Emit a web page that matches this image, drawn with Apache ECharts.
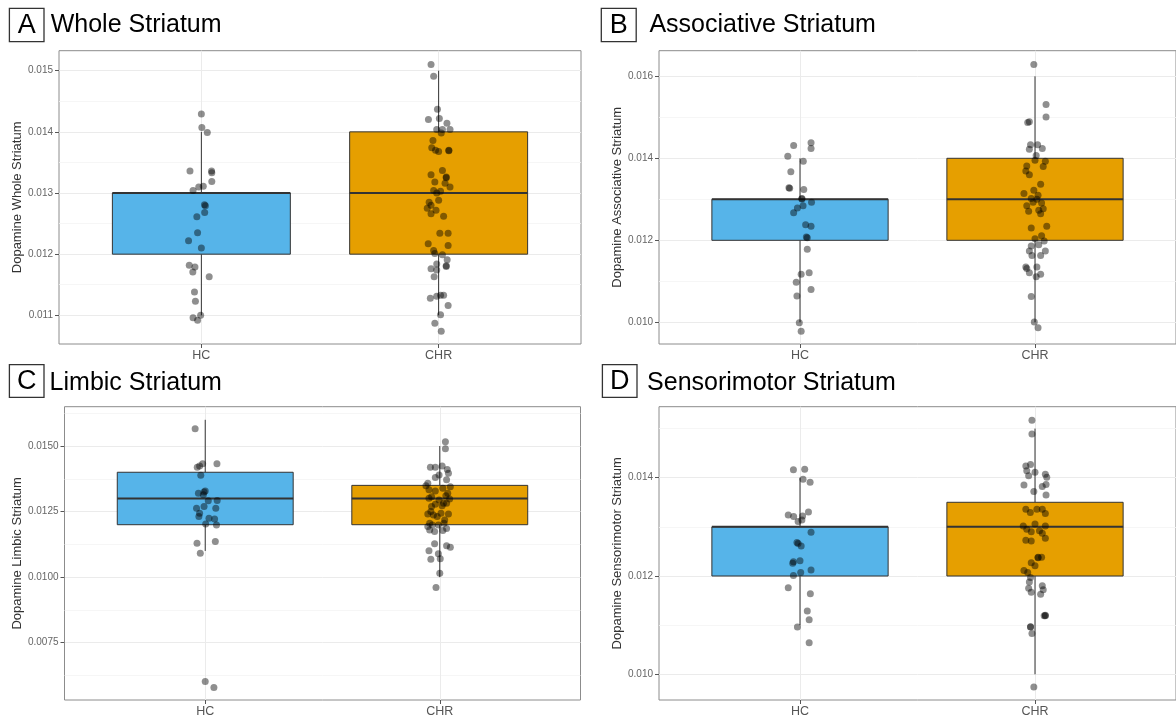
<!DOCTYPE html>
<html><head><meta charset="utf-8">
<script src="https://cdn.jsdelivr.net/npm/echarts@6/dist/echarts.min.js"></script>
<style>html,body{margin:0;padding:0;background:#fff}#c{width:1176px;height:722px}</style>
</head><body><div id="c"></div><script>
const groups = ['HC', 'CHR'];
const panelLetters = ['A', 'B', 'C', 'D'];
const panelTitles = ['Whole Striatum', 'Associative Striatum', 'Limbic Striatum', 'Sensorimotor Striatum'];
const yNames = ['Dopamine Whole Striatum', 'Dopamine Associative Striatum', 'Dopamine Limbic Striatum', 'Dopamine Sensorimotor Striatum'];

// box stats: [lower whisker, q1, median, q3, upper whisker]
const wholeBoxHC = [0.011, 0.012, 0.013, 0.013, 0.014];
const wholeBoxCHR = [0.011, 0.012, 0.013, 0.014, 0.015];
const assocBoxHC = [0.010, 0.012, 0.013, 0.013, 0.014];
const assocBoxCHR = [0.010, 0.012, 0.013, 0.014, 0.016];
const limbicBoxHC = [0.011, 0.012, 0.013, 0.014, 0.016];
const limbicBoxCHR = [0.010, 0.012, 0.013, 0.0135, 0.015];
const sensoBoxHC = [0.011, 0.012, 0.013, 0.013, 0.014];
const sensoBoxCHR = [0.010, 0.012, 0.013, 0.0135, 0.015];

// jittered points: [horizontal jitter, value]
const wholeHC = [[0,0.01429],[0.002,0.01407],[0.025,0.01399],[-0.048,0.01336],[0.043,0.01336],[0.044,0.01333],[0.044,0.01319],[0.008,0.01311],[-0.011,0.01310],[-0.035,0.01304],[0.013,0.01281],[0.017,0.01279],[0.014,0.01268],[-0.019,0.01261],[-0.016,0.01235],[-0.054,0.01222],[0,0.01210],[-0.051,0.01182],[-0.027,0.01179],[-0.036,0.01171],[0.033,0.01163],[-0.029,0.01138],[-0.025,0.01123],[-0.035,0.01096],[-0.003,0.01100],[-0.016,0.01092]];
const wholeCHR = [[-0.032,0.01510],[-0.021,0.01491],[-0.005,0.01437],[-0.043,0.01420],[0.003,0.01422],[0.035,0.01414],[-0.008,0.01404],[0.016,0.01404],[0.048,0.01404],[0.011,0.01398],[-0.024,0.01386],[-0.029,0.01374],[-0.013,0.01370],[0,0.01368],[0.043,0.01370],[0.043,0.01369],[0.016,0.01337],[-0.032,0.01330],[0.032,0.01326],[0.032,0.01325],[-0.016,0.01318],[0.027,0.01316],[0.048,0.01310],[-0.021,0.01304],[-0.008,0.01300],[0.008,0.01303],[-0.040,0.01285],[0,0.01288],[-0.032,0.01280],[-0.048,0.01275],[-0.011,0.01272],[-0.032,0.01266],[0.021,0.01262],[0.005,0.01234],[0.040,0.01234],[-0.044,0.01217],[0.040,0.01214],[-0.021,0.01206],[-0.016,0.01201],[0.016,0.01199],[0.036,0.01191],[-0.008,0.01184],[0.032,0.01181],[0.032,0.01180],[-0.032,0.01176],[-0.008,0.01174],[-0.019,0.01163],[-0.035,0.01128],[-0.008,0.01131],[0.008,0.01133],[0.021,0.01133],[0.040,0.01116],[0.008,0.01101],[-0.016,0.01087],[0.011,0.01074]];
const assocHC = [[0.047,0.01438],[-0.027,0.01431],[0.047,0.01424],[-0.052,0.01405],[0.014,0.01393],[-0.039,0.01367],[-0.047,0.01328],[-0.044,0.01327],[0.016,0.01324],[0.008,0.01302],[0.008,0.01301],[0.049,0.01293],[0.013,0.01284],[-0.011,0.01279],[-0.027,0.01267],[0.024,0.01238],[0.047,0.01234],[0.027,0.01208],[0.031,0.01206],[0.031,0.01178],[0.005,0.01117],[0.039,0.01121],[-0.016,0.01098],[0.047,0.01080],[-0.013,0.01064],[-0.003,0.00999],[0.005,0.00978]];
const assocCHR = [[-0.005,0.01629],[0.047,0.01531],[0.047,0.01501],[-0.031,0.01487],[-0.024,0.01489],[-0.019,0.01433],[0.011,0.01433],[0.031,0.01424],[-0.024,0.01422],[0.005,0.01407],[0,0.01395],[0.044,0.01393],[0.035,0.01380],[-0.035,0.01381],[-0.039,0.01369],[-0.024,0.01360],[0.024,0.01337],[-0.005,0.01322],[-0.047,0.01314],[0.013,0.01310],[-0.016,0.01302],[0.008,0.01300],[-0.008,0.01293],[0.028,0.01291],[-0.035,0.01284],[0.035,0.01277],[0.016,0.01273],[-0.027,0.01271],[0.024,0.01265],[-0.016,0.01230],[0.050,0.01234],[0,0.01204],[0.028,0.01211],[0.039,0.01198],[-0.016,0.01186],[0.016,0.01189],[-0.024,0.01174],[0.044,0.01174],[0.024,0.01163],[-0.013,0.01163],[-0.039,0.01135],[-0.035,0.01131],[0.008,0.01135],[-0.024,0.01121],[0.024,0.01117],[0.005,0.01111],[-0.016,0.01063],[-0.003,0.01001],[0.013,0.00987]];
const limbicHC = [[-0.043,0.01566],[-0.011,0.01432],[0.050,0.01432],[-0.034,0.01419],[-0.024,0.01424],[-0.019,0.01389],[0,0.01329],[-0.029,0.01320],[-0.008,0.01314],[0.051,0.01292],[0.013,0.01291],[-0.005,0.01269],[-0.037,0.01263],[0.045,0.01263],[-0.027,0.01231],[0.016,0.01225],[0.040,0.01222],[0.002,0.01203],[0.048,0.01199],[-0.035,0.01129],[0.043,0.01136],[-0.021,0.01091],[0,0.00602],[0.037,0.00579],[-0.005,0.01325],[-0.024,0.01244]];
const limbicCHR = [[0.024,0.01516],[0.024,0.01490],[-0.040,0.01419],[-0.019,0.01419],[0.010,0.01424],[0.032,0.01411],[-0.003,0.01390],[-0.019,0.01380],[0.029,0.01371],[-0.051,0.01358],[0.013,0.01339],[-0.046,0.01333],[-0.019,0.01329],[0.034,0.01320],[-0.035,0.01307],[-0.046,0.01301],[-0.003,0.01294],[0.029,0.01282],[-0.019,0.01278],[0.010,0.01272],[-0.051,0.01241],[-0.027,0.01237],[0.037,0.01241],[0.021,0.01218],[-0.043,0.01206],[-0.006,0.01199],[0.018,0.01206],[-0.032,0.01199],[-0.043,0.01180],[0.013,0.01178],[0.029,0.01186],[-0.022,0.01127],[0.029,0.01120],[0.045,0.01114],[-0.046,0.01101],[-0.006,0.01089],[-0.038,0.01068],[0.002,0.01070],[0,0.01015],[-0.016,0.00961],[0.042,0.01298],[-0.035,0.01269],[-0.011,0.01231],[-0.059,0.01349],[0.045,0.01345],[0.005,0.01244],[-0.022,0.01174],[0.037,0.01396],[-0.038,0.01250],[0.026,0.01310],[-0.051,0.01193],[0.016,0.01282]];
const sensoHC = [[-0.028,0.01416],[0.020,0.01417],[0.013,0.01397],[0.043,0.01391],[-0.050,0.01324],[-0.027,0.01321],[0.011,0.01322],[0.036,0.01330],[-0.008,0.01311],[0.008,0.01314],[0.047,0.01289],[-0.013,0.01268],[-0.008,0.01266],[0.005,0.01261],[0,0.01231],[-0.028,0.01229],[-0.031,0.01226],[0.003,0.01207],[0.047,0.01212],[-0.028,0.01201],[-0.050,0.01176],[0.044,0.01164],[0.031,0.01129],[0.039,0.01111],[-0.011,0.01096],[0.039,0.01064]];
const sensoCHR = [[-0.013,0.01517],[-0.013,0.01489],[-0.039,0.01424],[-0.019,0.01427],[-0.035,0.01414],[0,0.01411],[0.044,0.01407],[-0.027,0.01404],[0.050,0.01401],[-0.047,0.01385],[0.031,0.01382],[0.047,0.01386],[-0.005,0.01372],[0.047,0.01365],[-0.039,0.01336],[0.008,0.01336],[0.031,0.01336],[-0.020,0.01329],[0.044,0.01327],[-0.050,0.01302],[0,0.01306],[0.044,0.01302],[-0.035,0.01295],[-0.016,0.01290],[0.019,0.01292],[0.031,0.01287],[0.044,0.01277],[-0.039,0.01273],[-0.016,0.01271],[0.013,0.01238],[0.013,0.01237],[0.028,0.01238],[-0.016,0.01227],[0,0.01221],[-0.047,0.01211],[-0.031,0.01207],[-0.019,0.01197],[-0.024,0.01188],[0.031,0.01180],[-0.027,0.01175],[-0.016,0.01167],[0.024,0.01163],[0.035,0.01172],[0.039,0.01119],[0.044,0.01119],[0.044,0.01120],[-0.019,0.01097],[-0.019,0.01096],[-0.013,0.01083],[-0.005,0.00974]];

// axis ranges and tick values
const wholeRange = [0.010531, 0.015327];
const assocRange = [0.009471, 0.016624];
const limbicRange = [0.005316, 0.0165];
const sensoRange = [0.009477, 0.015445];
const wholeTicks = [0.011, 0.012, 0.013, 0.014, 0.015];
const wholeMinor = [0.0115, 0.0125, 0.0135, 0.0145];
const assocTicks = [0.010, 0.012, 0.014, 0.016];
const assocMinor = [0.011, 0.013, 0.015];
const limbicTicks = [0.0075, 0.0100, 0.0125, 0.0150];
const limbicMinor = [0.00625, 0.00875, 0.01125, 0.01375, 0.01625];
const sensoTicks = [0.010, 0.012, 0.014];
const sensoMinor = [0.011, 0.013, 0.015];
const xRange = [0.4, 2.6];

const COLORS = ['#56B4E9', '#E69F00'];
const FONT = '"Liberation Sans", Arial, Helvetica, sans-serif';
const BOX_HALF = 0.375;

const panels = [
  { boxes: [wholeBoxHC, wholeBoxCHR], pts: [wholeHC, wholeCHR], range: wholeRange, ticks: wholeTicks, minor: wholeMinor, dec: 3,
    grid: { left: 59, top: 50.7, width: 522, height: 293.3 }, nameGap: 33.5,
    letterBox: [9.4, 8.3, 34.6, 33.4], titleX: 50.7, titleY: 25.5 },
  { boxes: [assocBoxHC, assocBoxCHR], pts: [assocHC, assocCHR], range: assocRange, ticks: assocTicks, minor: assocMinor, dec: 3,
    grid: { left: 659, top: 50.7, width: 525, height: 293.3 }, nameGap: 33.5,
    letterBox: [601.3, 8.3, 34.9, 33.4], titleX: 649.4, titleY: 25.5 },
  { boxes: [limbicBoxHC, limbicBoxCHR], pts: [limbicHC, limbicCHR], range: limbicRange, ticks: limbicTicks, minor: limbicMinor, dec: 4,
    grid: { left: 64.5, top: 406.7, width: 516, height: 293.3 }, nameGap: 39.5,
    letterBox: [9.4, 364.7, 34.6, 32.6], titleX: 49.6, titleY: 383 },
  { boxes: [sensoBoxHC, sensoBoxCHR], pts: [sensoHC, sensoCHR], range: sensoRange, ticks: sensoTicks, minor: sensoMinor, dec: 3,
    grid: { left: 659, top: 406.7, width: 525, height: 293.3 }, nameGap: 33.5,
    letterBox: [602.4, 364.7, 34.6, 32.6], titleX: 647.1, titleY: 383 }
];

function renderBox(params, api) {
  const x = api.value(0), lo = api.value(1), q1 = api.value(2), med = api.value(3), q3 = api.value(4), hi = api.value(5);
  const tl = api.coord([x - BOX_HALF, q3]);
  const br = api.coord([x + BOX_HALF, q1]);
  const pHi = api.coord([x, hi]), pLo = api.coord([x, lo]);
  const pQ3 = api.coord([x, q3]), pQ1 = api.coord([x, q1]);
  const mL = api.coord([x - BOX_HALF, med]), mR = api.coord([x + BOX_HALF, med]);
  const stroke = '#333333';
  return { type: 'group', children: [
    { type: 'line', shape: { x1: pHi[0], y1: pHi[1], x2: pQ3[0], y2: pQ3[1] }, style: { stroke: stroke, lineWidth: 1 } },
    { type: 'line', shape: { x1: pLo[0], y1: pLo[1], x2: pQ1[0], y2: pQ1[1] }, style: { stroke: stroke, lineWidth: 1 } },
    { type: 'rect', shape: { x: tl[0], y: tl[1], width: br[0] - tl[0], height: br[1] - tl[1] }, style: { fill: api.visual('color'), stroke: stroke, lineWidth: 1 } },
    { type: 'line', shape: { x1: mL[0], y1: mL[1], x2: mR[0], y2: mR[1] }, style: { stroke: stroke, lineWidth: 2 } }
  ]};
}

const grid = [], xAxis = [], yAxis = [], series = [], graphic = [];
panels.forEach((p, i) => {
  grid.push(Object.assign({ show: true, borderColor: '#8c8c8c', borderWidth: 1, backgroundColor: '#fff' }, p.grid));
  xAxis.push({
    type: 'value', gridIndex: i, min: xRange[0], max: xRange[1],
    axisLine: { show: false },
    axisTick: { show: true, customValues: [1, 2], length: 4, lineStyle: { color: '#555', width: 1 } },
    axisLabel: { customValues: [1, 2], formatter: v => groups[Math.round(v) - 1], color: '#555', fontSize: 12.5, fontFamily: FONT, margin: 5 },
    splitLine: { show: true, lineStyle: { color: '#ebebeb', width: 1 } }
  });
  yAxis.push({
    type: 'value', gridIndex: i, min: p.range[0], max: p.range[1],
    name: yNames[i], nameLocation: 'middle', nameGap: p.nameGap,
    nameTextStyle: { color: '#333', fontSize: 13, fontFamily: FONT },
    axisLine: { show: false },
    axisTick: { show: true, customValues: p.ticks, length: 4, lineStyle: { color: '#555', width: 1 } },
    axisLabel: { customValues: p.ticks, formatter: v => v.toFixed(p.dec), color: '#666', fontSize: 10, fontFamily: FONT, margin: 6 },
    splitLine: { show: true, lineStyle: { color: '#ebebeb', width: 1 } }
  });
  yAxis.push({
    type: 'value', gridIndex: i, min: p.range[0], max: p.range[1],
    axisLine: { show: false }, axisLabel: { show: false },
    axisTick: { show: false, customValues: p.minor },
    splitLine: { show: true, lineStyle: { color: '#f4f4f4', width: 0.8 } }
  });
  series.push({
    type: 'custom', xAxisIndex: i, yAxisIndex: 2 * i, renderItem: renderBox, z: 2, clip: true,
    encode: { x: 0, y: [1, 2, 3, 4, 5] },
    data: p.boxes.map((b, g) => ({ value: [g + 1].concat(b), itemStyle: { color: COLORS[g] } }))
  });
  p.pts.forEach((arr, g) => {
    series.push({
      type: 'scatter', xAxisIndex: i, yAxisIndex: 2 * i, z: 3, symbolSize: 7,
      itemStyle: { color: 'rgba(0,0,0,0.55)' },
      data: arr.map(d => [g + 1 + d[0], d[1]])
    });
  });
  const lb = p.letterBox;
  graphic.push({ type: 'rect', shape: { x: lb[0], y: lb[1], width: lb[2], height: lb[3] }, style: { fill: 'none', stroke: '#333', lineWidth: 1.3 } });
  graphic.push({ type: 'text', x: lb[0] + lb[2] / 2, y: lb[1] + lb[3] / 2 + 0.5, style: { text: panelLetters[i], fontSize: 27, fontFamily: FONT, fill: '#000', align: 'center', verticalAlign: 'middle' } });
  graphic.push({ type: 'text', x: p.titleX, y: p.titleY, style: { text: panelTitles[i], fontSize: 25, fontFamily: FONT, fill: '#000', align: 'left', verticalAlign: 'middle' } });
});

const chart = echarts.init(document.getElementById('c'), null, { renderer: 'canvas' });
chart.setOption({ animation: false, backgroundColor: '#fff', grid, xAxis, yAxis, series, graphic });
</script></body></html>
